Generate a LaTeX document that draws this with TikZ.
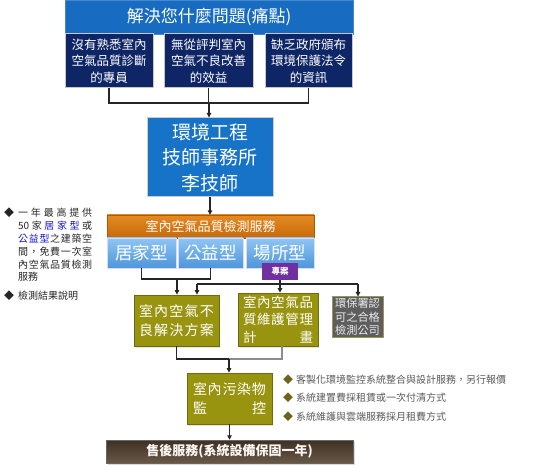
\documentclass[tikz,border=0pt]{standalone}
\usepackage{fontspec}
\newfontfamily\cjk{Noto Sans CJK TC}
\usetikzlibrary{arrows.meta,shadows,calc}
\definecolor{topblue}{HTML}{176BC1}
\definecolor{navy}{HTML}{0E2566}
\definecolor{engblue}{HTML}{1773C7}
\definecolor{olive}{HTML}{999410}
\definecolor{olivedk}{HTML}{6F6A0C}
\definecolor{purp}{HTML}{7030A0}
\definecolor{dia}{HTML}{6E6419}
\definecolor{lnk}{HTML}{1515D0}
\definecolor{lbtop}{HTML}{8EC6F4}
\definecolor{lbbot}{HTML}{4E95DA}
\definecolor{ortop}{HTML}{E38B22}
\definecolor{orbot}{HTML}{C9680A}
\definecolor{brtop}{HTML}{3E3024}
\definecolor{brbot}{HTML}{6A5846}
\newcommand\spr[2]{\makebox[#1][s]{#2}}
\begin{document}
\begin{tikzpicture}[x=1pt,y=-1pt,
  base/.style={inner sep=0pt, align=center, text=white, font=\cjk},
  topbox/.style={base, fill=topblue, draw=topblue!80!white, line width=0.6pt},
  navybox/.style={base, fill=navy, draw=black!22, line width=1pt,
    font=\cjk\fontsize{12.5}{16.5}\selectfont},
  engbox/.style={base, fill=engblue, draw=black!20, line width=1pt,
    font=\cjk\fontsize{19}{25.5}\selectfont},
  orbox/.style={base, top color=ortop, bottom color=orbot, draw=orbot!85!black,
    line width=0.4pt, font=\cjk\fontsize{13}{15}\selectfont,
    drop shadow={opacity=0.25, shadow xshift=1pt, shadow yshift=-1.5pt}},
  lbbox/.style={base, top color=lbtop, bottom color=lbbot, draw=white!85!blue, line width=0.8pt,
    font=\cjk\fontsize{17.5}{20}\selectfont,
    drop shadow={opacity=0.25, shadow xshift=1pt, shadow yshift=-1.5pt}},
  olbox/.style={base, fill=olive, draw=olivedk, line width=0.8pt,
    drop shadow={opacity=0.2, shadow xshift=1pt, shadow yshift=-1.5pt}},
  grybox/.style={base, fill={rgb,255:red,94;green,94;blue,94}, draw=olivedk!70, line width=1pt, text=white!92!black,
    font=\cjk\fontsize{11.2}{13.3}\selectfont},
  conn/.style={draw=black!85, line width=1.1pt},
  connlt/.style={draw=black!45, line width=1.1pt},
  arr/.style={conn, -{Triangle[length=4.5pt,width=4.5pt]}},
  bul/.style={inner sep=0pt, anchor=west, text=black!65, font=\cjk\fontsize{10}{12}\selectfont},
]
\useasboundingbox (0,0) rectangle (538,470);

% top
\node[topbox, minimum width=288pt, minimum height=34pt, font=\cjk\fontsize{17}{20}\selectfont] (top) at (209,17) {解決您什麼問題(痛點)};
\node[navybox, minimum width=88pt, minimum height=54pt] (d1) at (109,61) {沒有熟悉室內\\空氣品質診斷\\的專員};
\node[navybox, minimum width=89pt, minimum height=54pt] (d2) at (208.5,61) {無從評判室內\\空氣不良改善\\的效益};
\node[navybox, minimum width=87pt, minimum height=54pt] (d3) at (308.5,61) {缺乏政府頒布\\環境保護法令\\的資訊};

\coordinate (bk) at (209,103);
\draw[conn] (d1.south) -- (d1.south |- bk) -- (d3.south |- bk) -- (d3.south);
\draw[conn] (d2.south) -- (d2.south |- bk);

% engineer
\node[engbox, minimum width=126pt, minimum height=79pt] (eng) at (210,157.5) {環境工程\\技師事務所\\李技師};
\draw[arr] (bk) -- (bk |- eng.north);

% orange + types
\node[orbox, minimum width=207pt, minimum height=23pt] (og) at (210.5,226.5) {室內空氣品質檢測服務};
\draw[arr] (eng.south) -- (eng.south |- og.north);
\node[lbbox, minimum width=69pt, minimum height=30pt] (lb1) at (141.5,253) {居家型};
\node[lbbox, minimum width=65pt, minimum height=30pt] (lb2) at (210.5,253) {公益型};
\node[lbbox, minimum width=68pt, minimum height=30pt] (lb3) at (280,253) {場所型};
\node[base, fill=purp, minimum width=36pt, minimum height=17pt, font=\cjk\bfseries\fontsize{8.5}{10}\selectfont] (zhuan) at (280,271.5) {專案};

% second row boxes
\node[olbox, minimum width=85pt, minimum height=51pt, font=\cjk\fontsize{14}{18.5}\selectfont] (ol1) at (176.5,320.5)
  {\spr{75pt}{室\hfill 內\hfill 空\hfill 氣\hfill 不}\\\spr{75pt}{良\hfill 解\hfill 決\hfill 方\hfill 案}};
\node[olbox, minimum width=80pt, minimum height=53pt, font=\cjk\fontsize{13.5}{17.5}\selectfont] (ol2) at (278,319.5)
  {\spr{70pt}{室\hfill 內\hfill 空\hfill 氣\hfill 品}\\\spr{70pt}{質\hfill 維\hfill 護\hfill 管\hfill 理}\\\spr{70pt}{計\hfill 畫}};
\node[grybox, minimum width=51pt, minimum height=40pt] (gr) at (357.5,317) {環保署認\\可之合格\\檢測公司};

\coordinate (c1) at (177,279);
\draw[conn] (lb1.south) |- (c1) -| (lb2.south);
\draw[arr] (c1) -- (c1 |- ol1.north);
\coordinate (c2l) at (197,284);
\coordinate (c2) at (280,284);
\coordinate (c2r) at (358,284);
\draw[conn] (zhuan.south) -- (c2);
\draw[conn] (c2l) -- (c2r);
\draw[arr] (c2l) -- (c2l |- ol1.north);
\draw[arr] (c2) -- (c2 |- ol2.north);
\draw[arr] (c2r) -- (c2r |- gr.north);

% monitor
\node[olbox, minimum width=85pt, minimum height=51pt, font=\cjk\fontsize{14}{18.5}\selectfont] (mon) at (229.5,398.5)
  {\spr{73pt}{室\hfill 內\hfill 污\hfill 染\hfill 物}\\\spr{73pt}{監\hfill 控}};
\coordinate (c3) at (229,359);
\coordinate (c3r) at (282,359);
\draw[conn] (ol1.south) |- (c3);
\draw[connlt] (c3) -- (c3r) -- (c3r |- ol2.south);
\draw[arr] (c3) -- (c3 |- mon.north);

% bottom bar
\node[base, minimum width=247pt, minimum height=23pt, top color=brtop, bottom color=brbot,
  draw=black!60, line width=0.5pt, text=white!93!brown, font=\cjk\bfseries\fontsize{13}{15}\selectfont,
  drop shadow={opacity=0.3, shadow xshift=1.5pt, shadow yshift=-1.5pt}] (bar) at (229.5,451.5) {售後服務(系統設備保固一年)};
\draw[arr] (mon.south) -- (mon.south |- bar.north);

% right bullets
\node[bul] (r1) at (283,380) {\textcolor{dia}{◆}\hspace{3pt}客製化環境監控系統整合與設計服務，另行報價};
\node[bul] (r2) at (283,398) {\textcolor{dia}{◆}\hspace{3pt}系統建置費採租賃或一次付清方式};
\node[bul] (r3) at (283,417) {\textcolor{dia}{◆}\hspace{3pt}系統維護與雲端服務採月租費方式};

% left bullets
\node[inner sep=0pt, anchor=north west, align=left, text=black!85, font=\cjk\fontsize{10}{12.8}\selectfont] (lt) at (4,208)
  {\makebox[14pt][l]{◆}\spr{74pt}{一\hfill 年\hfill 最\hfill 高\hfill 提\hfill 供}\\
   \makebox[14pt]{}\spr{74pt}{50\hfill 家\hfill \textcolor{lnk}{居\hfill 家\hfill 型}\hfill 或}\\
   \makebox[14pt]{}\spr{74pt}{\textcolor{lnk}{公\hfill 益\hfill 型}\hfill 之\hfill 建\hfill 築\hfill 空}\\
   \makebox[14pt]{}\spr{74pt}{間\hfill ，\hfill 免\hfill 費\hfill 一\hfill 次\hfill 室}\\
   \makebox[14pt]{}\spr{74pt}{內\hfill 空\hfill 氣\hfill 品\hfill 質\hfill 檢\hfill 測}\\
   \makebox[14pt]{}服務\\[6pt]
   \makebox[14pt][l]{◆}檢測結果說明};
\end{tikzpicture}
\end{document}
